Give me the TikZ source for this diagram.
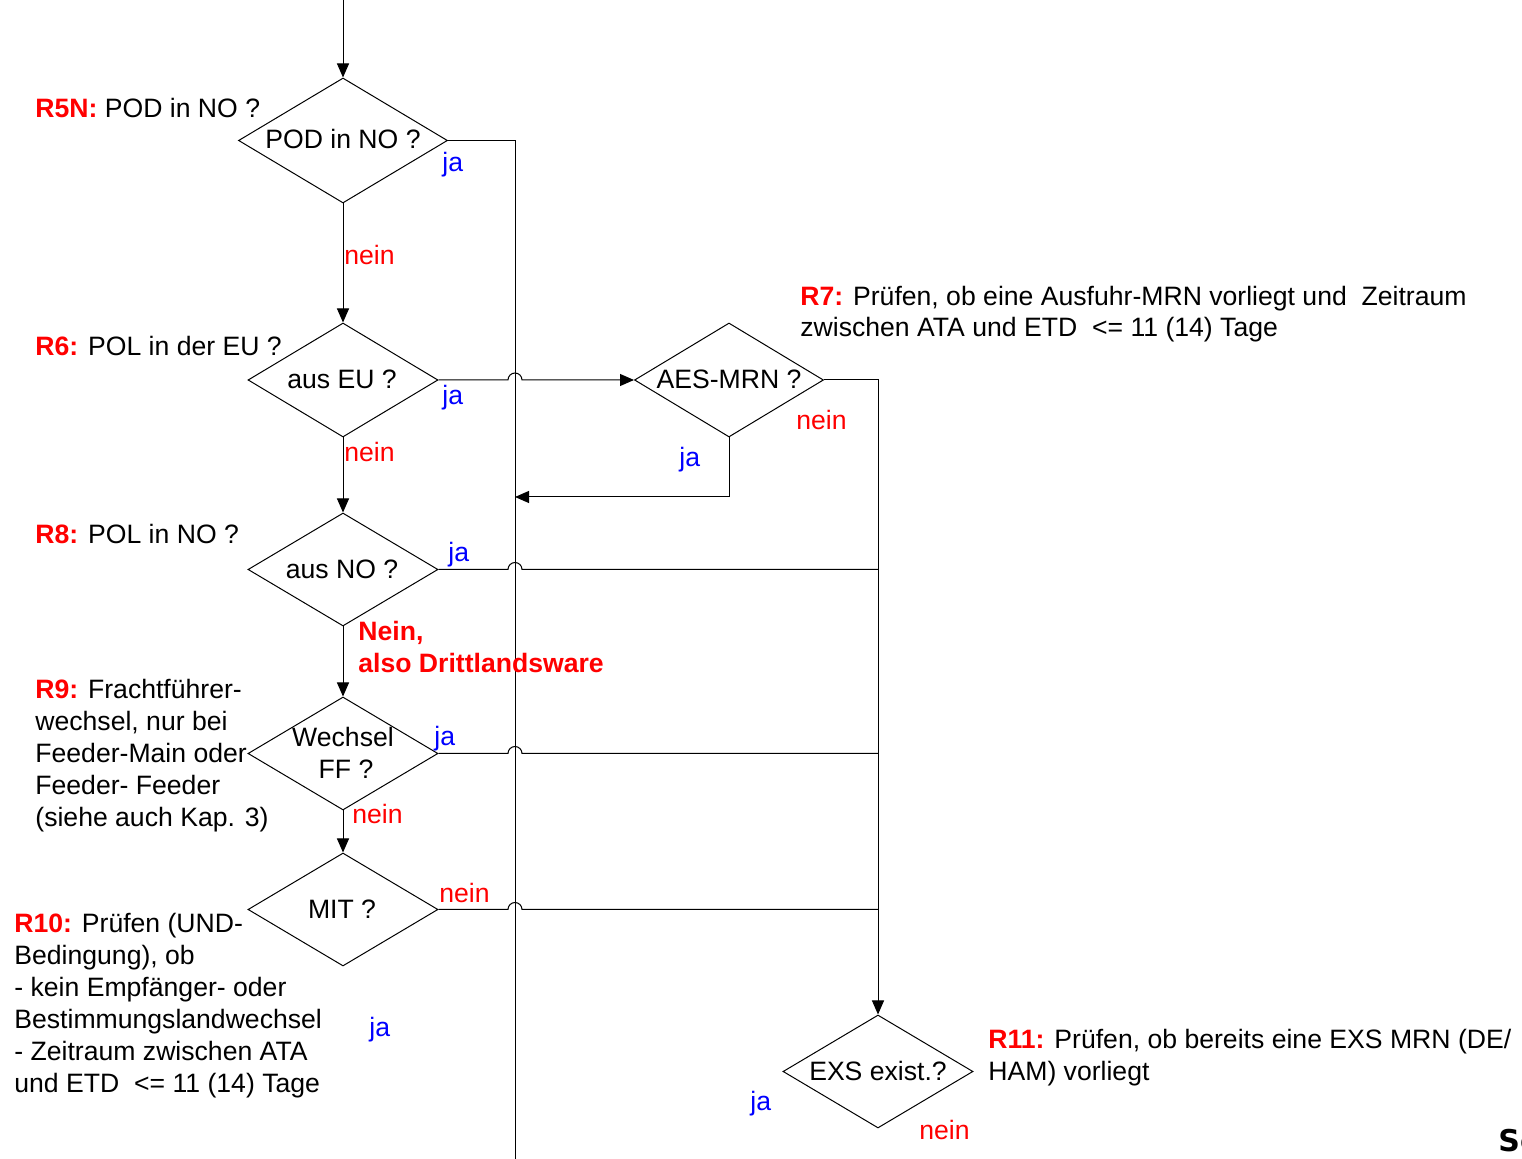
\documentclass[tikz,border=0pt]{standalone}
\usepackage{fontspec}
\setmainfont{Liberation Sans}
\newfontfamily\dejabold{DejaVu Sans}
\usetikzlibrary{shapes.geometric,arrows.meta}
\definecolor{jared}{RGB}{255,0,0}
\definecolor{jablue}{RGB}{0,0,255}
\begin{document}
\begin{tikzpicture}[x=0.5pt,y=-0.5pt,
  every node/.style={font=\fontsize{13.3}{16}\selectfont, inner sep=0pt},
  dia/.style={diamond, draw, line width=0.5pt, minimum width=95pt, minimum height=56.5pt},
  conn/.style={line width=0.5pt},
  arr/.style={line width=0.5pt, -{Triangle[length=7pt,width=6pt]}},
  yes/.style={text=jablue, anchor=west},
  no/.style={text=jared, anchor=west},
  note/.style={anchor=west, align=left}
]
\useasboundingbox (0,0) rectangle (1522,1159);
\clip (0,0) rectangle (1522,1159);

% diamonds
\node[dia, minimum width=104.5pt, minimum height=62.5pt] (d1) at (343,140.5) {};
\node[dia, minimum height=57pt] (d2) at (343,380) {};
\node[dia, minimum width=94.5pt, minimum height=57pt] (d7) at (729,380) {};
\node[dia] (d3) at (343,569.5) {};
\node[dia] (d4) at (343,753.5) {};
\node[dia] (d5) at (343,909.5) {};
\node[dia] (d11) at (878,1071.5) {};

% diamond texts
\node (t1) at (343,139) {POD in NO ?};
\node (t2) at (342,379) {aus EU ?};
\node (t7) at (729,379) {AES-MRN ?};
\node (t3) at (342,569) {aus NO ?};
\node (t4a) at (343,737) {Wechsel};
\node (t4b) at (346,769) {FF ?};
\node (t5) at (342,909) {MIT ?};
\node (t11) at (878,1071) {EXS exist.?};

% coordinates
\coordinate (top) at (343,0);
\coordinate (bot) at (515,1159);
\coordinate (back) at (515,497);
\coordinate (r3) at (878,569.5);
\coordinate (r4) at (878,753.5);
\coordinate (r5) at (878,909.5);

% connectors
\draw[arr] (top) -- (d1.north);
\draw[conn] (d1.east) -| (bot);
\draw[arr] (d1.south) -- (d2.north);
\draw[arr] (d2.east) -- (508,380) arc[start angle=180,end angle=0,radius=3.5pt] -- (d7.west);
\draw[arr] (d7.east) -| (d11.north);
\draw[arr] (d7.south) |- (back);
\draw[arr] (d2.south) -- (d3.north);
\draw[conn] (d3.east) -- (508,569.5) arc[start angle=180,end angle=0,radius=3.5pt] -- (r3);
\draw[arr] (d3.south) -- (d4.north);
\draw[conn] (d4.east) -- (508,753.5) arc[start angle=180,end angle=0,radius=3.5pt] -- (r4);
\draw[arr] (d4.south) -- (d5.north);
\draw[conn] (d5.east) -- (508,909.5) arc[start angle=180,end angle=0,radius=3.5pt] -- (r5);

% branch labels
\node[yes] (ja1) at (442,165) {ja};
\node[no] (ne1) at (344,255) {nein};
\node[yes] (ja2) at (442,398) {ja};
\node[no] (ne2) at (344,452) {nein};
\node[no] (ne7) at (796,420) {nein};
\node[yes] (ja7) at (679,460) {ja};
\node[yes] (ja3) at (448,555) {ja};
\node[no, align=left, font=\fontsize{13.3}{16}\selectfont\bfseries] (ne3) at (358,647) {Nein,\\also Drittlandsware};
\node[yes] (ja4) at (434,739) {ja};
\node[no] (ne4) at (352,814) {nein};
\node[no] (ne5) at (439,893) {nein};
\node[yes] (ja5) at (369,1030) {ja};
\node[yes] (ja11) at (750,1104) {ja};
\node[no] (ne11) at (919,1130) {nein};

% rule notes
\node[note] (n5) at (35,108) {\textcolor{jared}{\bfseries R5N:} POD in NO ?};
\node[note] (n6) at (35,346) {\textcolor{jared}{\bfseries R6:} POL in der EU ?};
\node[note] (n8) at (35,534) {\textcolor{jared}{\bfseries R8:} POL in NO ?};
\node[note] (n9) at (35,756) {\textcolor{jared}{\bfseries R9:} Frachtführer-\\wechsel, nur bei\\Feeder-Main oder\\Feeder- Feeder\\(siehe auch Kap. 3)};
\node[note] (n10) at (14,1006) {\textcolor{jared}{\bfseries R10:} Prüfen (UND-\\Bedingung), ob\\- kein Empfänger- oder\\Bestimmungslandwechsel\\- Zeitraum zwischen ATA\\und ETD\ \ <= 11 (14) Tage};
\node[note, font=\fontsize{13.3}{15.5}\selectfont] (n7) at (800,314) {\textcolor{jared}{\bfseries R7:} Prüfen, ob eine Ausfuhr-MRN vorliegt und\ \ Zeitraum\\zwischen ATA und ETD\ \ <= 11 (14) Tage};
\node[note] (n11) at (988,1058) {\textcolor{jared}{\bfseries R11:} Prüfen, ob bereits eine EXS MRN (DE/\\HAM) vorliegt};

\node[anchor=base west, font=\fontsize{15}{18}\selectfont\dejabold\bfseries] (se) at (1498,1152) {Se};
\end{tikzpicture}
\end{document}
